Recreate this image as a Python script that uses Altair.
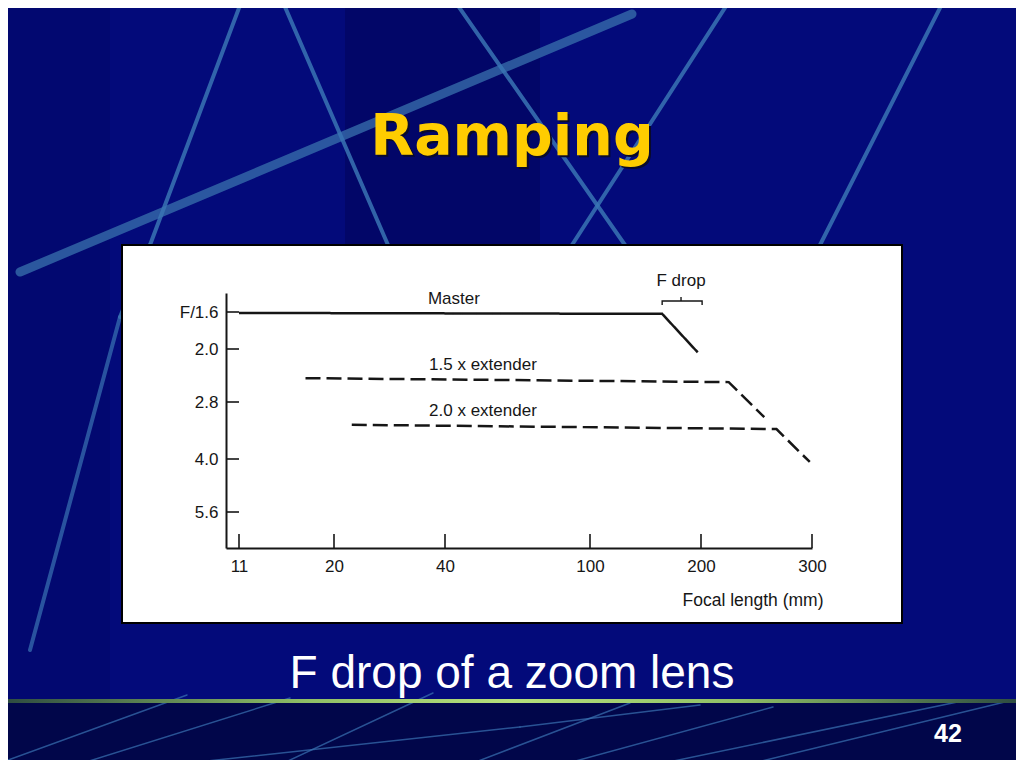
import altair as alt
import pandas as pd

# ---------------- data ----------------
x_tick_values = [11, 20, 40, 100, 200, 300]
y_tick_values = [1.6, 2.0, 2.8, 4.0, 5.6]
y_tick_labels = ["F/1.6", "2.0", "2.8", "4.0", "5.6"]

master_focal = [11, 165, 197]
master_fnum = [1.61, 1.62, 2.05]
ext15_focal = [17.3, 225, 257]
ext15_fnum = [2.44, 2.50, 3.12]
ext20_focal = [23.2, 268, 298]
ext20_fnum = [3.28, 3.37, 4.09]

series_names = ["Master", "1.5 x extender", "2.0 x extender"]

label_text = ["Master", "1.5 x extender", "2.0 x extender", "F drop"]
label_focal = [43.7, 55.7, 55.7, 182]
label_fnum = [1.463, 2.24, 2.99, 1.274]

fdrop_focal = [165, 201]

# ---------------- tables ----------------
rows = []
for name, fx, fy in zip(series_names,
                        [master_focal, ext15_focal, ext20_focal],
                        [master_fnum, ext15_fnum, ext20_fnum]):
    for i, (a, b) in enumerate(zip(fx, fy)):
        rows.append({"series": name, "focal": a, "fnum": b, "order": i})
lines_df = pd.DataFrame(rows)
labels_df = pd.DataFrame({"label": label_text, "focal": label_focal, "fnum": label_fnum})
xt_df = pd.DataFrame({"focal": x_tick_values})
yt_df = pd.DataFrame({"fnum": y_tick_values})
bracket_df = pd.DataFrame({
    "focal": [fdrop_focal[0], fdrop_focal[0], fdrop_focal[1], fdrop_focal[1]],
    "fnum": [1.526, 1.484, 1.484, 1.526],
    "order": [0, 1, 2, 3],
})
bracket_mid_df = pd.DataFrame({"focal": [(fdrop_focal[0] + fdrop_focal[1]) / 2 - 1],
                               "fnum": [1.442], "f2": [1.484]})
one = pd.DataFrame({"k": [0]})

# ---------------- geometry ----------------
W, H = 586, 255
OX, OY = 226, 293  # page position of the plot origin
PAD = {"left": OX - 8, "top": OY - 8, "right": 1008 - (OX - 8) - W, "bottom": 752 - (OY - 8) - H}

x_scale = alt.Scale(domain=[10, 11, 20, 40, 100, 200, 300],
                    range=[0, 13, 108, 219, 364, 475, 586], nice=False, zero=False)
y_scale = alt.Scale(domain=[1.4, 1.6, 2.0, 2.8, 4.0, 5.6, 8.0],
                    range=[0, 19, 56, 109, 166, 219, 255], nice=False, zero=False)

INK = "#161616"
FONT = "Liberation Sans"

label_expr = " : ".join(
    f"datum.value == {v} ? '{t}'" for v, t in zip(y_tick_values, y_tick_labels)
) + " : ''"

x_axis = alt.Axis(values=x_tick_values, ticks=False, format="d", grid=False, zindex=2,
                  labelFont=FONT, labelFontSize=17, labelColor=INK, labelPadding=10,
                  labelFlush=False, labelOverlap=False,
                  domainColor=INK, domainWidth=2,
                  title="Focal length (mm)", titleFont=FONT, titleFontSize=17.5,
                  titleFontWeight="normal", titleColor=INK, titleAlign="right",
                  titleAnchor="end", titleX=597, titleY=57, titleBaseline="alphabetic")
y_axis = alt.Axis(values=y_tick_values, ticks=False, labelExpr=label_expr, grid=False, zindex=2,
                  labelFont=FONT, labelFontSize=17, labelColor=INK, labelPadding=8,
                  labelFlush=False, labelOverlap=False,
                  domainColor=INK, domainWidth=2, title=None)


def XE():
    return alt.X("focal:Q", scale=x_scale, axis=x_axis, title="Focal length (mm)")


def YE():
    return alt.Y("fnum:Q", scale=y_scale, axis=y_axis, title=None)


def P(x, y):
    return alt.value(x - OX), alt.value(y - OY)


def seg(x1, y1, x2, y2, color="#3a74b4", width=4, opacity=0.85):
    a, b = P(x1, y1)
    c, d = P(x2, y2)
    return alt.Chart(one).mark_rule(color=color, strokeWidth=width, opacity=opacity,
                                    strokeCap="round").encode(x=a, y=b, x2=c, y2=d)


def box(x1, y1, x2, y2, **kw):
    a, b = P(x1, y1)
    c, d = P(x2, y2)
    return alt.Chart(one).mark_rect(**kw).encode(x=a, y=b, x2=c, y2=d)


def txt(x, y, s, **kw):
    a, b = P(x, y)
    return alt.Chart(one).mark_text(text=s, **kw).encode(x=a, y=b)


# ---------------- slide decoration ----------------
deco = [
    box(0, 702, 1024, 768, color="#01064a"),
    box(0, 0, 110, 700, color="#000040", opacity=0.18),
    box(345, 0, 540, 245, color="#000040", opacity=0.3),
    seg(20, 272, 632, 14, color="#3a72ae", width=9, opacity=0.75),
    seg(242, 0, 150, 245, width=4),
    seg(150, 245, 120, 317, width=4),
    seg(120, 317, 30, 650, width=4, opacity=0.7),
    seg(282, 0, 388, 245, width=4),
    seg(454, 0, 625, 245, width=4),
    seg(730, 0, 572, 245, width=4),
    seg(944, 0, 820, 245, width=4),
    # bottom strip lines
    seg(0, 763, 187, 695, width=1.5, opacity=0.7),
    seg(67, 768, 290, 698, width=1.5, opacity=0.7),
    seg(143, 768, 520, 727, width=1.5, opacity=0.7),
    seg(520, 727, 700, 705, width=1.5, opacity=0.7),
    seg(273, 768, 433, 693, width=1.5, opacity=0.7),
    seg(460, 768, 630, 703, width=1.5, opacity=0.7),
    seg(550, 768, 773, 707, width=1.5, opacity=0.7),
    seg(640, 768, 967, 700, width=1.5, opacity=0.7),
    seg(733, 768, 1013, 700, width=1.5, opacity=0.7),
    box(0, 699, 1024, 703, fill=alt.LinearGradient(
        gradient="linear", x1=0, x2=1, y1=0, y2=0,
        stops=[alt.GradientStop(offset=0, color="#2c4a40"),
               alt.GradientStop(offset=0.3, color="#8fbf66"),
               alt.GradientStop(offset=0.5, color="#b6e07c"),
               alt.GradientStop(offset=0.72, color="#8fbf66"),
               alt.GradientStop(offset=1, color="#2c4a40")])),
    txt(514, 157, "Ramping", font="DejaVu Sans", fontWeight="bold", fontSize=57,
        color="#0a0a2a", align="center", baseline="alphabetic"),
    txt(512, 155, "Ramping", font="DejaVu Sans", fontWeight="bold", fontSize=57,
        color="#FFCC00", align="center", baseline="alphabetic"),
    txt(512, 688, "F drop of a zoom lens", font=FONT, fontSize=46,
        color="white", align="center", baseline="alphabetic"),
    txt(948, 742, "42", font=FONT, fontWeight="bold", fontSize=25,
        color="white", align="center", baseline="alphabetic"),
    box(122, 245, 902, 623, fill="white", stroke="#000000", strokeWidth=2),
]

# ---------------- chart ----------------
series = alt.Chart(lines_df).mark_line(color=INK, strokeWidth=2.5).encode(
    x=XE(), y=YE(),
    detail="series:N",
    order="order:Q",
    strokeDash=alt.StrokeDash("series:N", scale=alt.Scale(
        domain=series_names, range=[[1, 0], [15, 6], [15, 6]]), legend=None),
)

xticks = alt.Chart(xt_df).mark_rule(color=INK, strokeWidth=1.6).encode(
    x=XE(), y=alt.value(H - 14), y2=alt.value(H))
yticks = alt.Chart(yt_df).mark_rule(color=INK, strokeWidth=1.6).encode(
    y=YE(), x=alt.value(0), x2=alt.value(13))

labels = alt.Chart(labels_df).mark_text(font=FONT, fontSize=17, color=INK,
                                        align="center", baseline="middle").encode(
    x=XE(), y=YE(), text="label:N")

bracket = alt.Chart(bracket_df).mark_line(color=INK, strokeWidth=1.4).encode(
    x=XE(), y=YE(), order="order:Q")
bracket_mid = alt.Chart(bracket_mid_df).mark_rule(color=INK, strokeWidth=1.4).encode(
    x=XE(), y=YE(), y2="f2:Q")

chart = alt.layer(*deco, series, xticks, yticks, labels, bracket, bracket_mid).properties(
    width=W, height=H, padding=PAD, background="#030a7a",
    autosize=alt.AutoSizeParams(type="none"),
).configure_view(stroke=None)

chart.save("out.html", embed_options={"renderer": "svg", "actions": False})
